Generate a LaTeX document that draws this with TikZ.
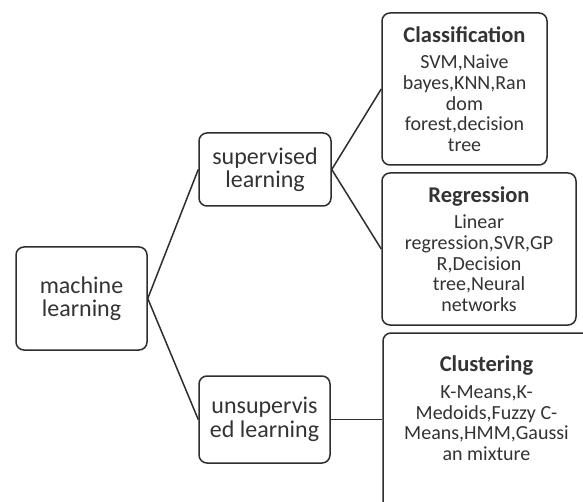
\documentclass[tikz,border=0pt]{standalone}
\usepackage{fontspec}
\setmainfont{Carlito}
\definecolor{linegray}{HTML}{2E2E2E}
\definecolor{textgray}{HTML}{333333}
\tikzset{
  box/.style={draw=linegray, line width=1.5pt, rounded corners=8pt, inner sep=0pt,
    align=center, text=textgray},
  bigtext/.style={font=\fontsize{24}{23.5}\selectfont},
  smalltext/.style={font=\fontsize{20}{20.7}\selectfont},
  link/.style={draw=linegray, line width=1.5pt},
}
\newcommand{\hdr}[1]{{\bfseries\fontsize{22.5}{20.7}\selectfont #1}\\[6pt]}
\begin{document}
\begin{tikzpicture}[x=1pt,y=-1pt]
\clip (0,0) rectangle (583,502);
\fill[white] (0,0) rectangle (583,502);
\node[box,bigtext,minimum width=131pt,minimum height=103pt] (ml) at (81.5,298.5) {machine\\learning};
\node[box,bigtext,minimum width=132pt,minimum height=73pt] (sup) at (265,169.5) {supervised\\learning};
\node[box,bigtext,minimum width=131pt,minimum height=87pt] (uns) at (264.5,419.5) {unsupervis\\ed learning};
\node[box,smalltext,minimum width=165pt,minimum height=152pt] (cla) at (464.5,89) {\hdr{Classification}SVM,Naive\\bayes,KNN,Ran\\dom\\forest,decision\\tree};
\node[box,smalltext,minimum width=194pt,minimum height=152pt] (reg) at (479,249) {\hdr{Regression}Linear\\regression,SVR,GP\\R,Decision\\tree,Neural\\networks};
\node[box,smalltext,minimum width=207pt,minimum height=177pt] (clu) at (486.5,421.5) {\hdr{Clustering}K-Means,K-\\Medoids,Fuzzy C-\\Means,HMM,Gaussi\\an mixture\\[6pt]};
\draw[link] (ml.east) -- (sup.west);
\draw[link] (ml.east) -- (uns.west);
\draw[link] (sup.east) -- (cla.west);
\draw[link] (sup.east) -- (reg.west);
\draw[link] (uns.east) -- (uns.east -| clu.west);
\end{tikzpicture}
\end{document}
